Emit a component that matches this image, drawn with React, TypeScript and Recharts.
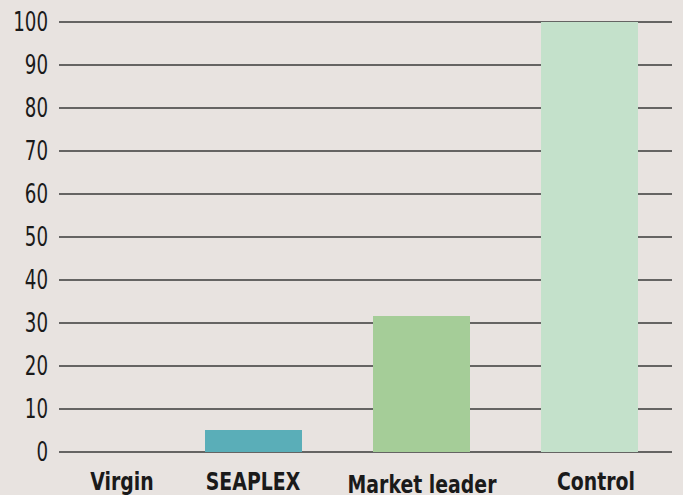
import { BarChart, Bar, Cell, XAxis, YAxis, CartesianGrid } from 'recharts'

const categories = ['Virgin', 'SEAPLEX', 'Market leader', 'Control']
const values = [0, 5.1, 31.6, 100]
const barColors = ['#5aaeb8', '#5aaeb8', '#a5cd98', '#c4e1cb']
const yTicks = [0, 10, 20, 30, 40, 50, 60, 70, 80, 90, 100]

const data = categories.map((name, i) => ({ name, value: values[i] }))

const FONT = '"DejaVu Sans Condensed", "DejaVu Sans", sans-serif'

// label nudges so the category names sit where the original had them
const labelDx = [37, 0, 1, 7]
const labelDy = [0, 0, 3, 0]

function CategoryTick({ x, y, payload, index }: { x?: number; y?: number; payload?: { value: string }; index?: number }) {
  const i = index ?? 0
  const tx = (x ?? 0) + labelDx[i]
  const ty = (y ?? 0) + 30 + labelDy[i]
  return (
    <text
      transform={`translate(${tx},${ty}) scale(0.84,1)`}
      textAnchor="middle"
      fontFamily={FONT}
      fontWeight={700}
      fontSize={25}
      fill="#1a1a1a"
    >
      {payload?.value}
    </text>
  )
}

function ValueTick({ y, payload }: { y?: number; payload?: { value: number } }) {
  return (
    <text
      transform={`translate(48,${(y ?? 0) + 9}) scale(0.78,1)`}
      textAnchor="end"
      fontFamily={FONT}
      fontSize={26}
      fill="#1a1a1a"
    >
      {payload?.value}
    </text>
  )
}

function GridLine(props: { y1?: number; y2?: number; key?: string }) {
  return <line key={props.key} x1={59} x2={672} y1={props.y1} y2={props.y2} stroke="#3a3a3a" strokeWidth={1.6} />
}

export default function App() {
  return (
    <div style={{ position: 'fixed', left: 0, top: 0, width: 683, height: 495, background: '#e8e3e0' }}>
      <BarChart width={683} height={495} data={data} margin={{ top: 22, right: 10, bottom: 0, left: 0 }} barSize={97}>
        <CartesianGrid vertical={false} horizontal={(p: any) => <GridLine {...p} />} />
        <XAxis dataKey="name" height={43} axisLine={false} tickLine={false} interval={0} tick={<CategoryTick />} />
        <YAxis
          width={1}
          domain={[0, 100]}
          ticks={yTicks}
          axisLine={false}
          tickLine={false}
          interval={0}
          tick={<ValueTick />}
        />
        <Bar dataKey="value" isAnimationActive={false}>
          {data.map((d, i) => (
            <Cell key={d.name} fill={barColors[i]} />
          ))}
        </Bar>
      </BarChart>
    </div>
  )
}
